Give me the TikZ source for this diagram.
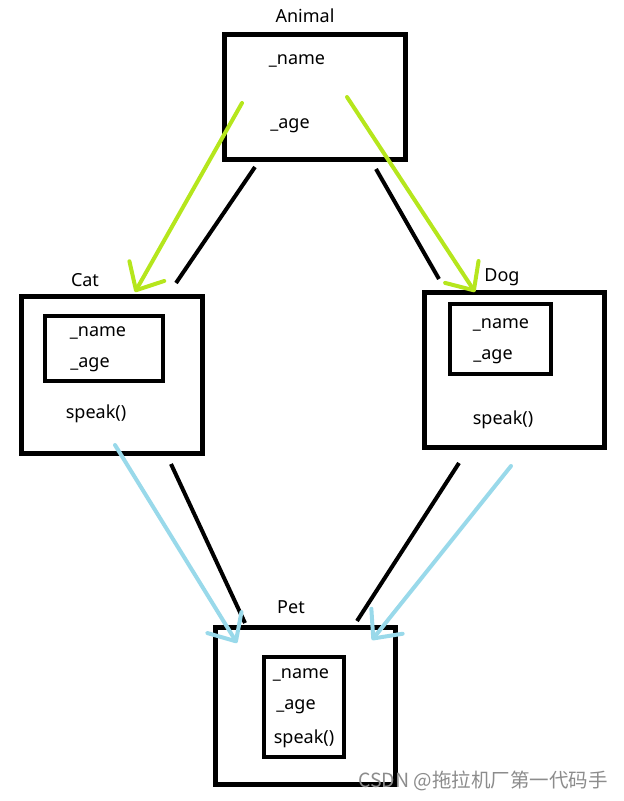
\documentclass[tikz,border=0pt]{standalone}
\usepackage{fontspec}
\setmainfont{Noto Sans}
\newfontfamily\cjkfont{Noto Sans CJK SC}
\usetikzlibrary{arrows.meta}

\definecolor{paintgreen}{HTML}{B5E61D}
\definecolor{paintblue}{HTML}{99D9EA}

\tikzset{
  box/.style={draw, line width=5pt, inner sep=0pt},
  inbox/.style={draw, line width=4pt, inner sep=0pt},
  txt/.style={font=\fontsize{18}{20}\selectfont, inner sep=0pt, yshift=-2.5pt},
  link/.style={line width=4pt},
  inherit/.style={line width=4pt, line cap=round, -{Straight Barb[length=22pt,width=40pt,round]}},
}

\begin{document}
\begin{tikzpicture}[x=1pt, y=-1pt]
            \useasboundingbox (0,0) rectangle (624,801);

            % boxes
            \node[box, minimum width=181pt, minimum height=125pt] (animal) at (315,97) {};
            \node[box, minimum width=181pt, minimum height=157pt] (cat) at (112,374.5) {};
            \node[box, minimum width=179.5pt, minimum height=155pt] (dog) at (514.25,369.5) {};
            \node[box, minimum width=180pt, minimum height=156.5pt] (pet) at (305.5,705.75) {};
            \node[inbox, minimum width=118pt, minimum height=65pt] (catin) at (104,348.5) {};
            \node[inbox, minimum width=101pt, minimum height=70pt] (dogin) at (500.5,339) {};
            \node[inbox, minimum width=80pt, minimum height=100pt] (petin) at (304,707) {};

            % titles
            \node[txt] (animaltitle) at (305,13) {Animal};
            \node[txt] (cattitle) at (85,278) {Cat};
            \node[txt] (dogtitle) at (502,275) {Dog};
            \node[txt] (pettitle) at (291,605) {Pet};

            % members
            \node[txt] (animalname) at (297,58) {\_name};
            \node[txt] (animalage) at (290,123) {\_age};
            \node[txt] (catname) at (98,330) {\_name};
            \node[txt] (catage) at (90,362) {\_age};
            \node[txt] (catspeak) at (96,411) {speak()};
            \node[txt] (dogname) at (501,322) {\_name};
            \node[txt] (dogage) at (493,354) {\_age};
            \node[txt] (dogspeak) at (503,417) {speak()};
            \node[txt] (petname) at (301,672) {\_name};
            \node[txt] (petage) at (296,704) {\_age};
            \node[txt] (petspeak) at (304,736) {speak()};

            % line ends
            \coordinate (ac1) at (255,167);
            \coordinate (ac2) at (176,283);
            \coordinate (ad1) at (376,169);
            \coordinate (ad2) at (439,279);
            \coordinate (cp1) at (171,464);
            \coordinate (cp2) at (245,623);
            \coordinate (dp1) at (459,463);
            \coordinate (dp2) at (357,621);
            \coordinate (gc1) at (242,103);
            \coordinate (gc2) at (135,292);
            \coordinate (gd1) at (347,97);
            \coordinate (gd2) at (475,292);
            \coordinate (bc1) at (115,445);
            \coordinate (bc2) at (237,643);
            \coordinate (bd1) at (511,466);
            \coordinate (bd2) at (372,640);

            \draw[link] (ac1) -- (ac2);
            \draw[link] (ad1) -- (ad2);
            \draw[link] (cp1) -- (cp2);
            \draw[link] (dp1) -- (dp2);
            \draw[inherit, paintgreen] (gc1) -- (gc2);
            \draw[inherit, paintgreen] (gd1) -- (gd2);
            \draw[inherit, paintblue] (bc1) -- (bc2);
            \draw[inherit, paintblue] (bd1) -- (bd2);

            \node[font=\cjkfont\fontsize{19.5}{21}\selectfont, text=black!45, inner sep=0pt] (mark) at (483,781) {CSDN @拖拉机厂第一代码手};
        \end{tikzpicture}
\end{document}
